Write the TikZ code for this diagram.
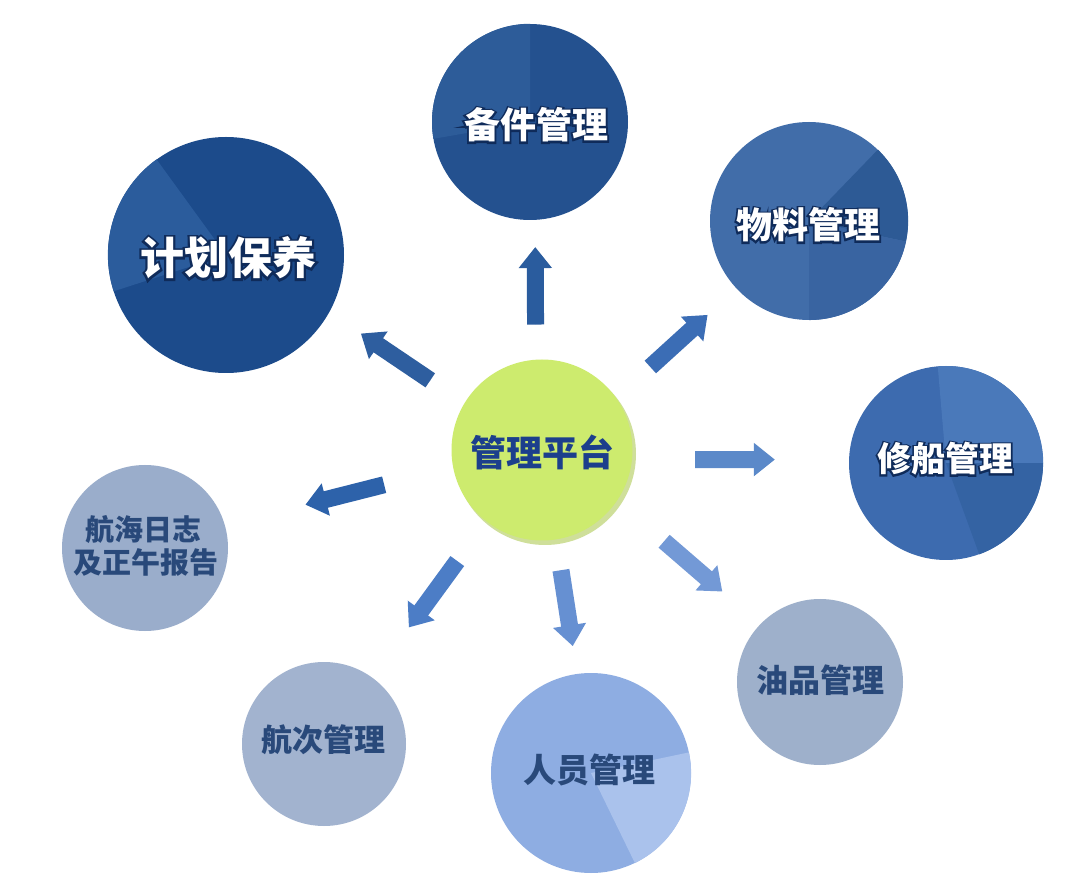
\documentclass[tikz,border=0pt]{standalone}
\usepackage{fontspec}
\newfontfamily\cjk{Noto Sans CJK SC}
\newfontfamily\cjkout[FakeBold=10]{Noto Sans CJK SC}
\usetikzlibrary{arrows.meta}
\definecolor{cPlan}{HTML}{1C4B8B}
\definecolor{cPlanW}{HTML}{2B5C9C}
\definecolor{cBj}{HTML}{24518F}
\definecolor{cBjW}{HTML}{2D5C99}
\definecolor{cWl}{HTML}{416DA9}
\definecolor{cWlD}{HTML}{2D5A95}
\definecolor{cWlM}{HTML}{3964A1}
\definecolor{cXc}{HTML}{3D6BAF}
\definecolor{cXcL}{HTML}{4A79BA}
\definecolor{cXcD}{HTML}{3463A3}
\definecolor{cLog}{HTML}{9AADCB}
\definecolor{cHc}{HTML}{A2B3CF}
\definecolor{cYp}{HTML}{9EB0CB}
\definecolor{cRy}{HTML}{8EADE2}
\definecolor{cRyL}{HTML}{AAC2EC}
\definecolor{cHub}{HTML}{CDEB6E}
\definecolor{cHubS}{HTML}{AFCB58}
\definecolor{outl}{HTML}{0F2B5A}
\definecolor{tHub}{HTML}{1C3F8C}
\definecolor{tLight}{HTML}{29497A}
\definecolor{a1}{HTML}{2A5C9E}
\definecolor{a2}{HTML}{2E5E9F}
\definecolor{a3}{HTML}{3B6DB5}
\definecolor{a4}{HTML}{5B89C9}
\definecolor{a5}{HTML}{2D62AA}
\definecolor{a6}{HTML}{4C7DC6}
\definecolor{a7}{HTML}{6690D2}
\definecolor{a8}{HTML}{7399D6}
\begin{document}
\begin{tikzpicture}[x=1pt,y=-1pt,
  bubble/.style={circle, inner sep=0pt, draw=none},
  lbl/.style={inner sep=0pt, align=center, font=\cjk\bfseries\fontsize{#1}{#1}\selectfont},
  glow/.style={inner sep=0pt, align=center, text=outl, font=\cjkout\bfseries\fontsize{#1}{#1}\selectfont},
  conn/.style={line width=17pt, -{Triangle[length=21pt,width=32pt]}}]
\useasboundingbox[fill=white] (0,0) rectangle (1080,882);

% circles
\node[bubble, minimum size=236pt, fill=cPlan] (plan) at (226,255) {};
\node[bubble, minimum size=196pt, fill=cBj] (bj) at (530,122) {};
\node[bubble, minimum size=198pt, fill=cWl] (wl) at (809,221) {};
\node[bubble, minimum size=194pt, fill=cXc] (xc) at (946,463) {};
\node[bubble, minimum size=166pt, fill=cLog] (log) at (145,548) {};
\node[bubble, minimum size=164pt, fill=cHc] (hc) at (324,744) {};
\node[bubble, minimum size=200pt, fill=cRy] (ry) at (591,773) {};
\node[bubble, minimum size=166pt, fill=cYp] (yp) at (820,682) {};
\fill[cHubS, opacity=0.6] (545,454) circle[radius=91pt];
\node[bubble, minimum size=181pt, fill=cHub] (hub) at (542,450) {};

% wedges
\fill[cPlanW] (plan.center) -- (plan.126) arc[start angle=126, end angle=198, radius=118pt] -- cycle;
\fill[cBjW] (bj.center) -- (bj.90) arc[start angle=90, end angle=190, radius=98pt] -- cycle;
\fill[cWlD] (wl.center) -- (wl.46) arc[start angle=46, end angle=-12, radius=99pt] -- cycle;
\fill[cWlM] (wl.center) -- (wl.-12) arc[start angle=-12, end angle=-90, radius=99pt] -- cycle;
\fill[cXcL] (xc.center) -- (xc.0) arc[start angle=0, end angle=95, radius=97pt] -- cycle;
\fill[cXcD] (xc.center) -- (xc.-70) arc[start angle=-70, end angle=0, radius=97pt] -- cycle;
\fill[cRyL] (ry.center) -- (ry.-64) arc[start angle=-64, end angle=12, radius=100pt] -- cycle;

% labels (dark outline behind white text)
\node[glow=44] (plan-o) at (228,258) {计划保养};
\node[lbl=44, text=white] (plan-t) at (plan-o) {计划保养};
\node[glow=36] (bj-o) at (536,125) {备件管理};
\node[lbl=36, text=white] (bj-t) at (bj-o) {备件管理};
\node[glow=36] (wl-o) at (808,225) {物料管理};
\node[lbl=36, text=white] (wl-t) at (wl-o) {物料管理};
\node[glow=34] (xc-o) at (945,459) {修船管理};
\node[lbl=34, text=white] (xc-t) at (xc-o) {修船管理};
\node[lbl=36, text=tHub] (hub-t) at (542,452) {管理平台};
\node[lbl=29, text=tLight] (log-t1) at (143,530) {航海日志};
\node[lbl=29, text=tLight] (log-t2) at (146,562) {及正午报告};
\node[lbl=31, text=tLight] (hc-t) at (323,740) {航次管理};
\node[lbl=33, text=tLight] (ry-t) at (589,770) {人员管理};
\node[lbl=32, text=tLight] (yp-t) at (820,680) {油品管理};

% arrows
\draw[conn, draw=a1, fill=a1, shorten <=35pt, shorten >=27pt] (hub.94.5) -- (bj.-87);
\draw[conn, draw=a2, fill=a2, shorten <=41pt, shorten >=38pt] (hub.149) -- (plan.-29);
\draw[conn, draw=a3, fill=a3, shorten <=46pt, shorten >=39pt] (hub.35.4) -- (wl.223);
\draw[conn, draw=a4, fill=a4, shorten <=63pt, shorten >=74pt] (hub.-6.3) -- (xc.178.2);
\draw[conn, draw=a5, fill=a5, shorten <=71pt, shorten >=83pt] (hub.191.8) -- (log.16);
\draw[conn, draw=a6, fill=a6, shorten <=49pt, shorten >=62pt] (hub.232.9) -- (hc.54);
\draw[conn, draw=a7, fill=a7, shorten <=31pt, shorten >=28pt] (hub.-81.9) -- (ry.98.1);
\draw[conn, draw=a8, fill=a8, shorten <=62pt, shorten >=50pt] (hub.-34) -- (yp.136.8);
\end{tikzpicture}
\end{document}
